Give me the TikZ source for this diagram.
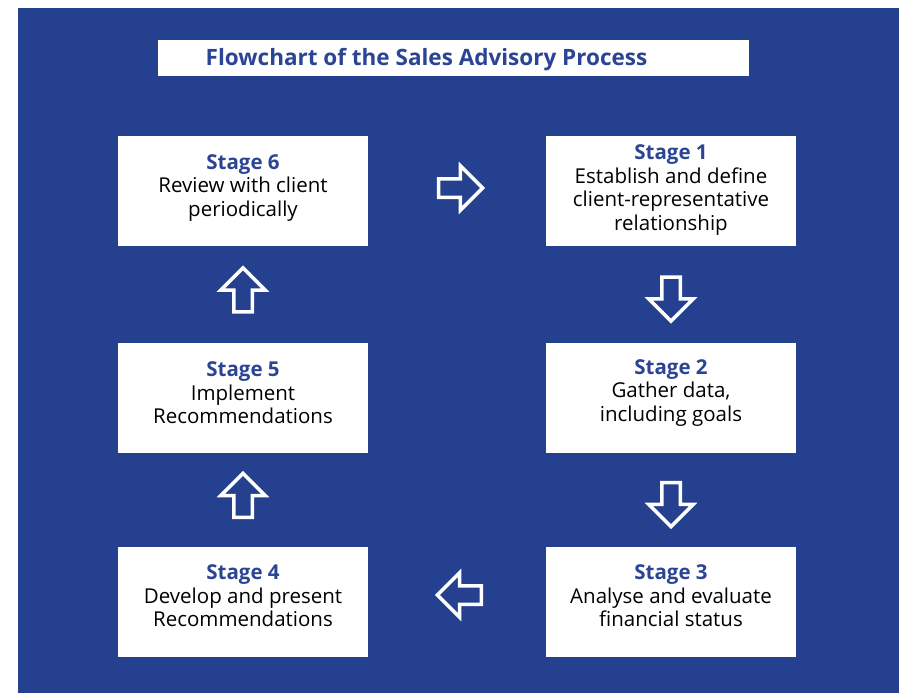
\documentclass[tikz,border=0pt]{standalone}
\usepackage{fontspec}
\setmainfont{Open Sans}
\usetikzlibrary{shapes.arrows,calc}
\definecolor{bgblue}{HTML}{24408E}
\definecolor{headblue}{HTML}{2B4594}
\begin{document}
\begin{tikzpicture}[x=1pt,y=-1pt,
  stagebox/.style={fill=white,minimum width=250pt,minimum height=110pt,inner sep=0pt},
  stagetext/.style={align=center,font=\fontsize{20.5}{23.5}\selectfont,text=black,inner sep=0pt},
  blockarrow/.style={single arrow,draw=white,line width=3.5pt,fill=bgblue,
    minimum height=44pt,minimum width=41pt,inner xsep=0pt,inner ysep=7.5pt,
    single arrow head extend=13pt,single arrow head indent=0pt}]
\useasboundingbox (0,0) rectangle (899,693);
\fill[bgblue] (18,8) rectangle (899,693);
\node[fill=white,minimum width=591pt,minimum height=36pt,inner sep=0pt] (titlebox) at (453.5,58) {};
\node[text=headblue,font=\fontsize{22.5}{26}\selectfont\bfseries,inner sep=0pt] (title) at (426.5,60) {Flowchart of the Sales Advisory Process};

\node[stagebox] (s6) at (243,191) {};
\node[stagebox] (s1) at (671,191) {};
\node[stagebox] (s5) at (243,398) {};
\node[stagebox] (s2) at (671,398) {};
\node[stagebox] (s4) at (243,602) {};
\node[stagebox] (s3) at (671,602) {};

\node[stagetext] (t6) at ($(s6)+(0,-3)$) {{\color{headblue}\bfseries Stage 6}\\Review with client\\periodically};
\node[stagetext] (t1) at ($(s1)+(0,-1)$) {{\color{headblue}\bfseries Stage 1}\\Establish and define\\client-representative\\relationship};
\node[stagetext] (t5) at ($(s5)+(0,-5)$) {{\color{headblue}\bfseries Stage 5}\\Implement\\Recommendations};
\node[stagetext] (t2) at ($(s2)+(0,-5)$) {{\color{headblue}\bfseries Stage 2}\\Gather data,\\including goals};
\node[stagetext] (t4) at ($(s4)+(0,-6)$) {{\color{headblue}\bfseries Stage 4}\\Develop and present\\Recommendations};
\node[stagetext] (t3) at ($(s3)+(0,-6)$) {{\color{headblue}\bfseries Stage 3}\\Analyse and evaluate\\financial status};

\node[blockarrow] (a61) at ($(s6.east)!0.5!(s1.west)+(-1,-3)$) {};
\node[blockarrow,rotate=-90] (a12) at ($(s1.south)!0.5!(s2.north)$) {};
\node[blockarrow,rotate=-90] (a23) at ($(s2.south)!0.5!(s3.north)$) {};
\node[blockarrow,rotate=180] (a34) at ($(s3.west)!0.5!(s4.east)+(7,-7)$) {};
\node[blockarrow,rotate=90] (a45) at ($(s4.north)!0.5!(s5.south)$) {};
\node[blockarrow,rotate=90] (a56) at ($(s5.north)!0.5!(s6.south)$) {};
\end{tikzpicture}
\end{document}
